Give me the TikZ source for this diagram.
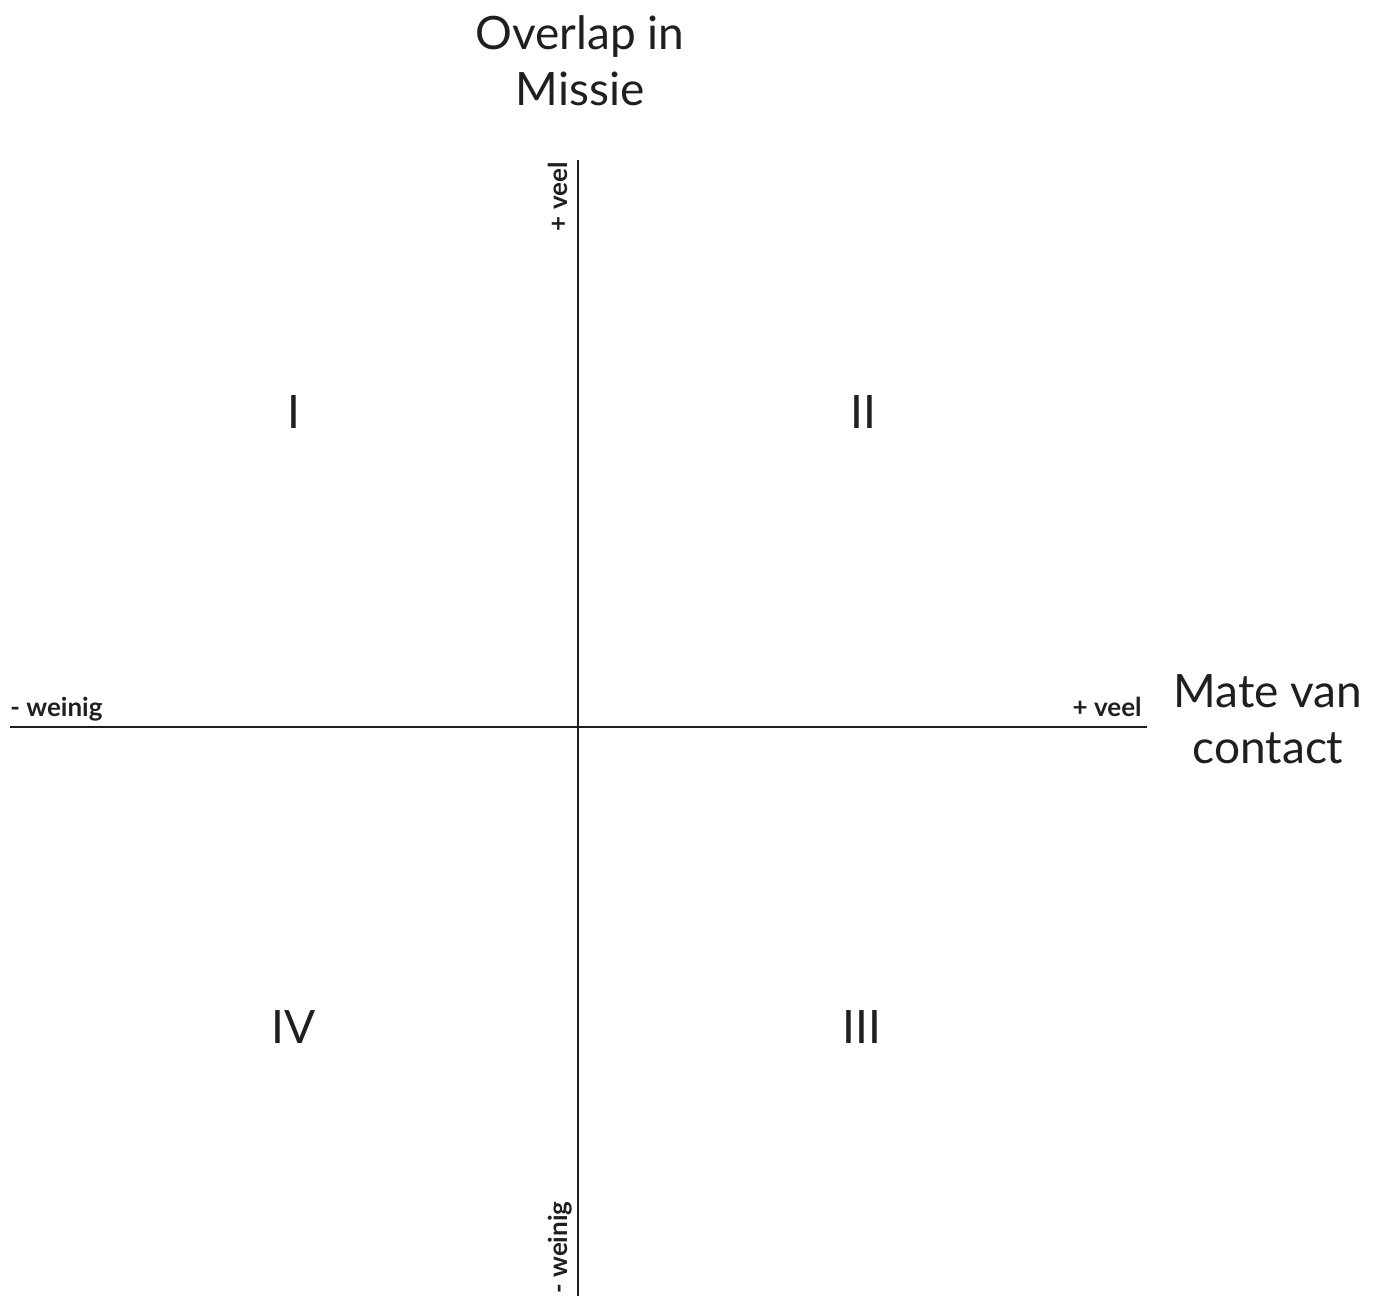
\documentclass[tikz,border=0pt]{standalone}
\usepackage{fontspec}
\setmainfont{Lato}
\usetikzlibrary{positioning}

\begin{document}
\begin{tikzpicture}[
    x=0.5pt, y=-0.5pt,
    axis/.style={line width=1pt, draw=black!88},
    ttl/.style={font=\fontsize{23}{28}\selectfont, text=black!88, align=center, inner sep=0pt},
    quad/.style={font=\fontsize{23}{28}\selectfont, text=black!88, inner sep=0pt},
    tck/.style={font=\fontsize{13}{16}\selectfont\bfseries, text=black!88, inner sep=0pt}]

    \useasboundingbox (0,0) rectangle (1384,1296);

    % axes
    \coordinate (top) at (578,160);
    \coordinate (bot) at (578,1296);
    \coordinate (lft) at (10,727);
    \coordinate (rgt) at (1147,727);
    \draw[axis] (top) -- (bot);
    \draw[axis] (lft) -- (rgt);

    % axis titles
    \node[ttl] (ytitle) at (580,61) {Overlap in\\Missie};
    \node[ttl] (xtitle) at (1268,719) {Mate van\\contact};

    % end labels
    \node[tck, anchor=base west] (xmin) at (10,716) {- weinig};
    \node[tck, anchor=base east] (xmax) at (1142,716) {+ veel};
    \node[tck, rotate=90, anchor=base east] (ymax) at (567,162) {+ veel};
    \node[tck, rotate=90, anchor=base west] (ymin) at (567,1294) {- weinig};

    % quadrants
    \node[quad] (q1) at (294,412) {I};
    \node[quad] (q2) at (863,412) {II};
    \node[quad] (q3) at (862,1027) {III};
    \node[quad] (q4) at (294,1027) {IV};
  \end{tikzpicture}
\end{document}
